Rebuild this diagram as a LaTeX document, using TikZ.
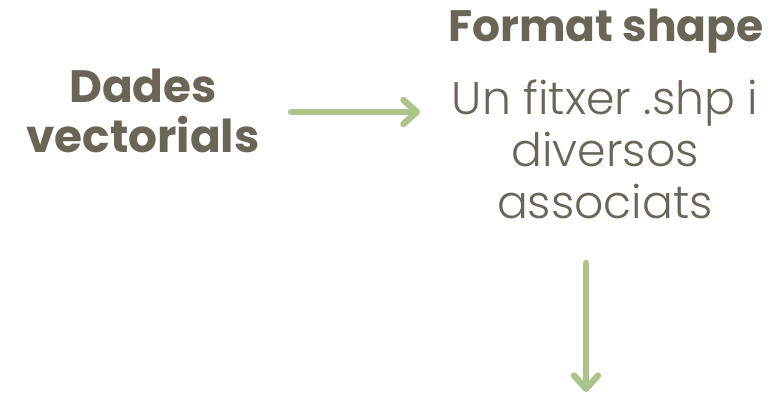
\documentclass[tikz,border=0pt]{standalone}
\usepackage{fontspec}
\setmainfont{Poppins}
\newfontfamily\poplight{Poppins Light}
\usetikzlibrary{arrows.meta}

\definecolor{ink}{RGB}{107,101,87}
\definecolor{leaf}{RGB}{170,196,140}

\tikzset{every picture/.style={line width=0.75pt}}
\tikzset{
	headtxt/.style={text=ink, font=\bfseries\fontsize{34}{37.5}\selectfont, align=center, inner sep=0pt},
	bodytxt/.style={text=ink, font=\poplight\fontsize{34.3}{39}\selectfont, align=center, inner sep=0pt},
	flowarrow/.style={draw=leaf, line width=4.8pt, line cap=round, -{Straight Barb[length=10pt,width=18pt,line cap=round,line join=round]}}
}

\begin{document}
\begin{tikzpicture}[x=0.75pt,y=0.75pt,yscale=-1,xscale=1]
	\useasboundingbox (0,0) rectangle (775,398);

	% Text Node
	\node[headtxt] (dades) at (143,111) {Dades\\vectorials};
	% Text Node
	\node[headtxt, font=\bfseries\fontsize{33}{35}\selectfont, anchor=base] (format) at (606,42) {Format shape};
	% Text Node
	\node[bodytxt] (fitxer) at (605,149) {Un fitxer .shp i\\diversos\\associats};

	% Straight Lines
	\coordinate (h1) at (291,112);
	\coordinate (h2) at (420,112);
	\draw[flowarrow] (h1) -- (h2);
	% Straight Lines
	\coordinate (v1) at (586,263);
	\coordinate (v2) at (586,392);
	\draw[flowarrow] (v1) -- (v2);

\end{tikzpicture}
\end{document}
